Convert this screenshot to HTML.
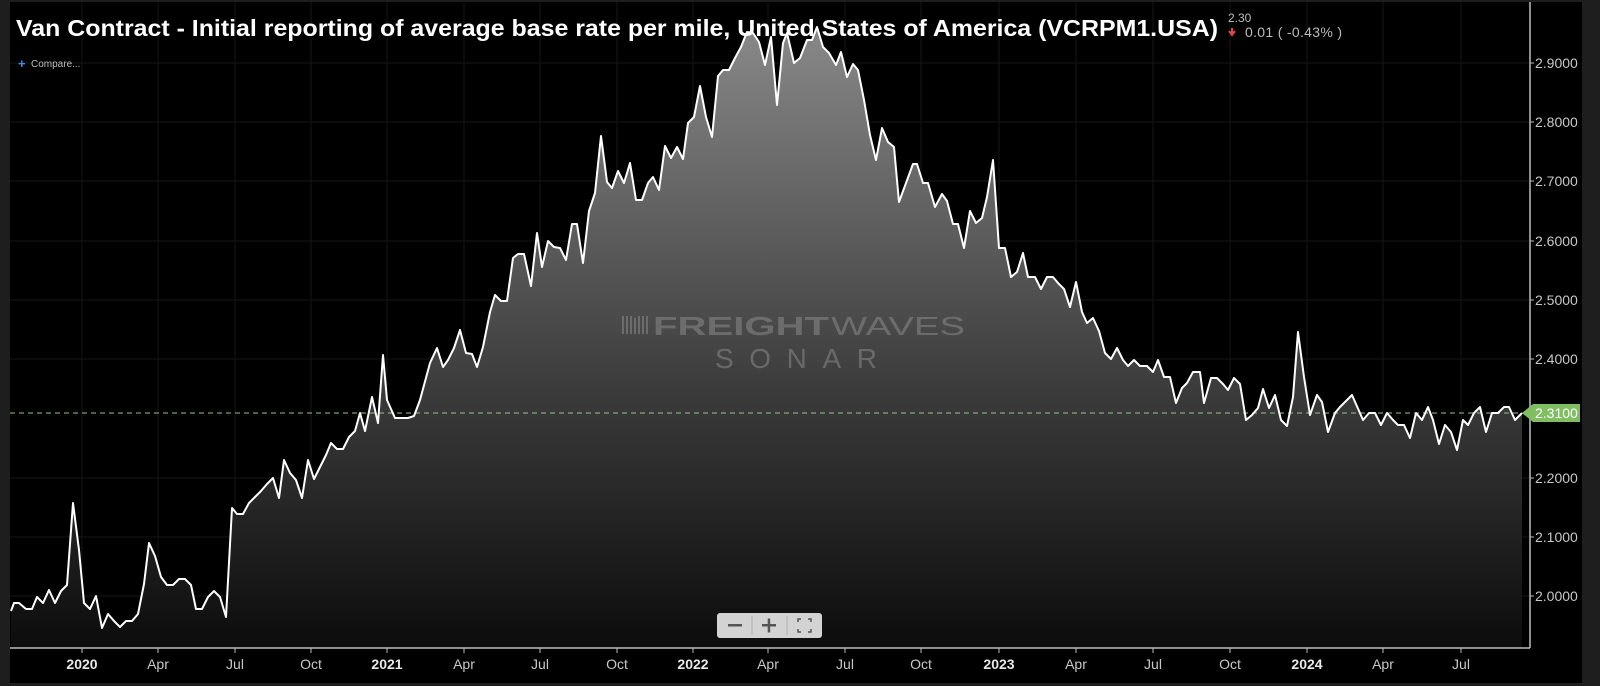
<!DOCTYPE html>
<html><head><meta charset="utf-8"><style>
html,body{margin:0;padding:0;background:#1e1e1e;}
svg{display:block;font-family:"Liberation Sans",sans-serif;}
</style></head><body>
<svg width="1600" height="686" viewBox="0 0 1600 686" xmlns="http://www.w3.org/2000/svg">
<defs>
<linearGradient id="g" gradientUnits="userSpaceOnUse" x1="0" y1="20" x2="0" y2="648">
<stop offset="0" stop-color="#8a8a8a"/>
<stop offset="0.6" stop-color="#3a3a3a"/>
<stop offset="1" stop-color="#0c0c0c"/>
</linearGradient>
</defs>
<rect x="0" y="0" width="1600" height="686" fill="#1e1e1e"/>
<rect x="10" y="2" width="1572" height="681" fill="#000"/>
<g stroke="#161616" stroke-width="1">
<line x1="10" y1="63" x2="1529" y2="63"/><line x1="10" y1="122" x2="1529" y2="122"/><line x1="10" y1="181" x2="1529" y2="181"/><line x1="10" y1="241" x2="1529" y2="241"/><line x1="10" y1="300" x2="1529" y2="300"/><line x1="10" y1="359" x2="1529" y2="359"/><line x1="10" y1="478" x2="1529" y2="478"/><line x1="10" y1="537" x2="1529" y2="537"/><line x1="10" y1="596" x2="1529" y2="596"/>
<line x1="82" y1="2" x2="82" y2="648"/><line x1="158" y1="2" x2="158" y2="648"/><line x1="235" y1="2" x2="235" y2="648"/><line x1="311" y1="2" x2="311" y2="648"/><line x1="387" y1="2" x2="387" y2="648"/><line x1="464" y1="2" x2="464" y2="648"/><line x1="540" y1="2" x2="540" y2="648"/><line x1="617" y1="2" x2="617" y2="648"/><line x1="693" y1="2" x2="693" y2="648"/><line x1="768" y1="2" x2="768" y2="648"/><line x1="845" y1="2" x2="845" y2="648"/><line x1="921" y1="2" x2="921" y2="648"/><line x1="999" y1="2" x2="999" y2="648"/><line x1="1076" y1="2" x2="1076" y2="648"/><line x1="1153" y1="2" x2="1153" y2="648"/><line x1="1230" y1="2" x2="1230" y2="648"/><line x1="1307" y1="2" x2="1307" y2="648"/><line x1="1383" y1="2" x2="1383" y2="648"/><line x1="1461" y1="2" x2="1461" y2="648"/>
</g>
<path id="d" d="M11,611 L14,603 L19,603 L26,609 L32,609 L37,597 L43,603 L49,590 L55,603 L61,591 L67,585 L73,503 L79,550 L84,603 L90,609 L96,596 L102,628 L108,614 L114,621 L120,627 L126,621 L132,621 L138,614 L144,584 L149,543 L155,556 L161,577 L167,585 L173,585 L179,579 L185,579 L191,585 L196,609 L202,609 L208,597 L214,591 L220,597 L226,617 L232,508 L237,514 L243,514 L249,503 L255,497 L261,491 L267,484 L273,478 L279,498 L284,460 L290,473 L296,480 L302,498 L308,460 L314,479 L320,467 L326,455 L331,443 L337,449 L343,449 L349,437 L355,431 L360,413 L365,431 L372,397 L378,423 L383,355 L387,400 L395,418 L402,418 L408,418 L414,416 L420,400 L430,363 L437,348 L443,367 L448,360 L454,348 L460,330 L466,353 L472,354 L477,367 L483,347 L490,312 L495,295 L501,301 L507,301 L513,258 L518,254 L524,254 L531,286 L537,233 L542,267 L548,241 L554,247 L560,248 L566,260 L572,224 L577,224 L583,263 L589,211 L595,193 L601,136 L607,182 L612,188 L618,171 L624,183 L630,163 L636,200 L642,200 L648,183 L653,177 L659,190 L665,146 L671,158 L677,147 L683,159 L688,123 L694,117 L700,86 L706,117 L712,137 L718,76 L723,70 L729,70 L735,58 L741,47 L747,32 L753,33 L759,42 L765,65 L771,37 L777,105 L783,43 L787,33 L794,63 L800,58 L807,40 L812,40 L817,27 L823,47 L829,53 L836,65 L841,52 L847,77 L853,64 L858,70 L864,100 L870,135 L876,160 L882,128 L888,142 L894,147 L899,202 L906,183 L913,164 L917,164 L923,183 L928,183 L935,207 L942,194 L947,201 L953,224 L958,224 L964,248 L970,211 L976,223 L982,218 L987,197 L993,160 L999,248 L1005,248 L1011,277 L1017,272 L1023,253 L1028,277 L1035,277 L1041,289 L1047,277 L1053,277 L1058,283 L1064,289 L1070,307 L1076,282 L1082,312 L1087,323 L1093,318 L1099,331 L1105,353 L1111,359 L1117,348 L1123,360 L1128,366 L1134,360 L1140,366 L1147,366 L1153,372 L1158,360 L1164,377 L1170,377 L1176,403 L1182,388 L1187,383 L1193,372 L1200,372 L1204,403 L1211,378 L1217,378 L1223,384 L1228,390 L1234,378 L1240,384 L1246,420 L1252,415 L1258,408 L1263,389 L1269,408 L1275,395 L1281,420 L1287,426 L1293,397 L1298,332 L1304,377 L1310,415 L1317,395 L1322,402 L1328,432 L1335,413 L1340,407 L1352,395 L1363,420 L1369,413 L1375,413 L1381,425 L1387,413 L1393,420 L1398,425 L1404,425 L1410,438 L1416,413 L1422,420 L1428,407 L1433,420 L1439,444 L1445,425 L1451,432 L1457,450 L1463,420 L1468,425 L1474,413 L1480,407 L1486,432 L1492,413 L1498,413 L1504,407 L1509,407 L1515,420 L1522,413" fill="none"/>
<path d="M11,648 L11,611 L14,603 L19,603 L26,609 L32,609 L37,597 L43,603 L49,590 L55,603 L61,591 L67,585 L73,503 L79,550 L84,603 L90,609 L96,596 L102,628 L108,614 L114,621 L120,627 L126,621 L132,621 L138,614 L144,584 L149,543 L155,556 L161,577 L167,585 L173,585 L179,579 L185,579 L191,585 L196,609 L202,609 L208,597 L214,591 L220,597 L226,617 L232,508 L237,514 L243,514 L249,503 L255,497 L261,491 L267,484 L273,478 L279,498 L284,460 L290,473 L296,480 L302,498 L308,460 L314,479 L320,467 L326,455 L331,443 L337,449 L343,449 L349,437 L355,431 L360,413 L365,431 L372,397 L378,423 L383,355 L387,400 L395,418 L402,418 L408,418 L414,416 L420,400 L430,363 L437,348 L443,367 L448,360 L454,348 L460,330 L466,353 L472,354 L477,367 L483,347 L490,312 L495,295 L501,301 L507,301 L513,258 L518,254 L524,254 L531,286 L537,233 L542,267 L548,241 L554,247 L560,248 L566,260 L572,224 L577,224 L583,263 L589,211 L595,193 L601,136 L607,182 L612,188 L618,171 L624,183 L630,163 L636,200 L642,200 L648,183 L653,177 L659,190 L665,146 L671,158 L677,147 L683,159 L688,123 L694,117 L700,86 L706,117 L712,137 L718,76 L723,70 L729,70 L735,58 L741,47 L747,32 L753,33 L759,42 L765,65 L771,37 L777,105 L783,43 L787,33 L794,63 L800,58 L807,40 L812,40 L817,27 L823,47 L829,53 L836,65 L841,52 L847,77 L853,64 L858,70 L864,100 L870,135 L876,160 L882,128 L888,142 L894,147 L899,202 L906,183 L913,164 L917,164 L923,183 L928,183 L935,207 L942,194 L947,201 L953,224 L958,224 L964,248 L970,211 L976,223 L982,218 L987,197 L993,160 L999,248 L1005,248 L1011,277 L1017,272 L1023,253 L1028,277 L1035,277 L1041,289 L1047,277 L1053,277 L1058,283 L1064,289 L1070,307 L1076,282 L1082,312 L1087,323 L1093,318 L1099,331 L1105,353 L1111,359 L1117,348 L1123,360 L1128,366 L1134,360 L1140,366 L1147,366 L1153,372 L1158,360 L1164,377 L1170,377 L1176,403 L1182,388 L1187,383 L1193,372 L1200,372 L1204,403 L1211,378 L1217,378 L1223,384 L1228,390 L1234,378 L1240,384 L1246,420 L1252,415 L1258,408 L1263,389 L1269,408 L1275,395 L1281,420 L1287,426 L1293,397 L1298,332 L1304,377 L1310,415 L1317,395 L1322,402 L1328,432 L1335,413 L1340,407 L1352,395 L1363,420 L1369,413 L1375,413 L1381,425 L1387,413 L1393,420 L1398,425 L1404,425 L1410,438 L1416,413 L1422,420 L1428,407 L1433,420 L1439,444 L1445,425 L1451,432 L1457,450 L1463,420 L1468,425 L1474,413 L1480,407 L1486,432 L1492,413 L1498,413 L1504,407 L1509,407 L1515,420 L1522,413 L1522,648 Z" fill="url(#g)"/>
<!-- watermark -->
<g fill="#8a8a8a" opacity="0.55">
<rect x="622" y="316" width="2" height="18"/><rect x="626" y="316" width="2" height="18"/><rect x="630" y="316" width="2" height="18"/><rect x="634" y="318" width="2" height="16"/><rect x="638" y="316" width="2" height="18"/><rect x="642" y="316" width="2" height="18"/><rect x="646" y="316" width="2" height="18"/>
<text x="653" y="335" font-size="26" font-weight="bold" textLength="176" lengthAdjust="spacingAndGlyphs">FREIGHT</text>
<text x="831" y="335" font-size="26" textLength="134" lengthAdjust="spacingAndGlyphs">WAVES</text>
<text x="715" y="368" font-size="28" textLength="162" lengthAdjust="spacing">SONAR</text>
</g>
<line x1="10" y1="413" x2="1522" y2="413" stroke="#9ac48a" stroke-width="1" stroke-dasharray="5,4"/>
<use href="#d" stroke="#fff" stroke-width="2" stroke-linejoin="round"/>
<!-- axes -->
<line x1="10" y1="648" x2="1530" y2="648" stroke="#bdbdbd" stroke-width="1.5"/>
<line x1="1530" y1="2" x2="1530" y2="648" stroke="#bdbdbd" stroke-width="1.5"/>
<g stroke="#bdbdbd" stroke-width="1">
<line x1="82" y1="648" x2="82" y2="653"/><line x1="158" y1="648" x2="158" y2="653"/><line x1="235" y1="648" x2="235" y2="653"/><line x1="311" y1="648" x2="311" y2="653"/><line x1="387" y1="648" x2="387" y2="653"/><line x1="464" y1="648" x2="464" y2="653"/><line x1="540" y1="648" x2="540" y2="653"/><line x1="617" y1="648" x2="617" y2="653"/><line x1="693" y1="648" x2="693" y2="653"/><line x1="768" y1="648" x2="768" y2="653"/><line x1="845" y1="648" x2="845" y2="653"/><line x1="921" y1="648" x2="921" y2="653"/><line x1="999" y1="648" x2="999" y2="653"/><line x1="1076" y1="648" x2="1076" y2="653"/><line x1="1153" y1="648" x2="1153" y2="653"/><line x1="1230" y1="648" x2="1230" y2="653"/><line x1="1307" y1="648" x2="1307" y2="653"/><line x1="1383" y1="648" x2="1383" y2="653"/><line x1="1461" y1="648" x2="1461" y2="653"/>
<line x1="1530" y1="63" x2="1534" y2="63"/><line x1="1530" y1="122" x2="1534" y2="122"/><line x1="1530" y1="181" x2="1534" y2="181"/><line x1="1530" y1="241" x2="1534" y2="241"/><line x1="1530" y1="300" x2="1534" y2="300"/><line x1="1530" y1="359" x2="1534" y2="359"/><line x1="1530" y1="478" x2="1534" y2="478"/><line x1="1530" y1="537" x2="1534" y2="537"/><line x1="1530" y1="596" x2="1534" y2="596"/>
</g>
<g font-size="14" fill="#c8c8c8" text-anchor="middle">
<text x="82" y="669" font-weight="bold" fill="#e8e8e8">2020</text><text x="158" y="669">Apr</text><text x="235" y="669">Jul</text><text x="311" y="669">Oct</text>
<text x="387" y="669" font-weight="bold" fill="#e8e8e8">2021</text><text x="464" y="669">Apr</text><text x="540" y="669">Jul</text><text x="617" y="669">Oct</text>
<text x="693" y="669" font-weight="bold" fill="#e8e8e8">2022</text><text x="768" y="669">Apr</text><text x="845" y="669">Jul</text><text x="921" y="669">Oct</text>
<text x="999" y="669" font-weight="bold" fill="#e8e8e8">2023</text><text x="1076" y="669">Apr</text><text x="1153" y="669">Jul</text><text x="1230" y="669">Oct</text>
<text x="1307" y="669" font-weight="bold" fill="#e8e8e8">2024</text><text x="1383" y="669">Apr</text><text x="1461" y="669">Jul</text>
</g>
<g font-size="14" fill="#c8c8c8">
<text x="1535" y="68">2.9000</text><text x="1535" y="127">2.8000</text><text x="1535" y="186">2.7000</text><text x="1535" y="246">2.6000</text><text x="1535" y="305">2.5000</text><text x="1535" y="364">2.4000</text><text x="1535" y="483">2.2000</text><text x="1535" y="542">2.1000</text><text x="1535" y="601">2.0000</text>
</g>
<path d="M1522,413 L1533,404 L1580,404 L1580,422 L1533,422 Z" fill="#7fbf62"/>
<text x="1535" y="418" font-size="14" fill="#fff">2.3100</text>
<!-- title -->
<text x="16" y="36" font-size="23" font-weight="bold" fill="#fff" textLength="1202" lengthAdjust="spacingAndGlyphs">Van Contract - Initial reporting of average base rate per mile, United States of America (VCRPM1.USA)</text>
<text x="1228" y="22" font-size="12" fill="#bbb">2.30</text>
<path d="M1232,28 L1232,33 M1229,31 L1232,35 L1235,31" stroke="#e04848" stroke-width="2" fill="none"/>
<text x="1245" y="37" font-size="14" fill="#bbb" textLength="97">0.01 ( -0.43% )</text>
<text x="18" y="68" font-size="13" fill="#3a8ee8" font-weight="bold">+</text>
<text x="31" y="67" font-size="10" fill="#bbb">Compare...</text>
<!-- zoom buttons -->
<rect x="717" y="613" width="105" height="25" rx="3" fill="#d3d3d3"/>
<line x1="752" y1="616" x2="752" y2="635" stroke="#b0b0b0"/>
<line x1="787" y1="616" x2="787" y2="635" stroke="#b0b0b0"/>
<rect x="728" y="624" width="14" height="2.5" fill="#555"/>
<rect x="762" y="624" width="14" height="2.5" fill="#555"/>
<rect x="767.7" y="618.5" width="2.5" height="14" fill="#555"/>
<path d="M798,622 v-3 h3 M808,619 h3 v3 M811,629 v3 h-3 M801,632 h-3 v-3" stroke="#555" stroke-width="1.5" fill="none"/>
</svg>
</body></html>
